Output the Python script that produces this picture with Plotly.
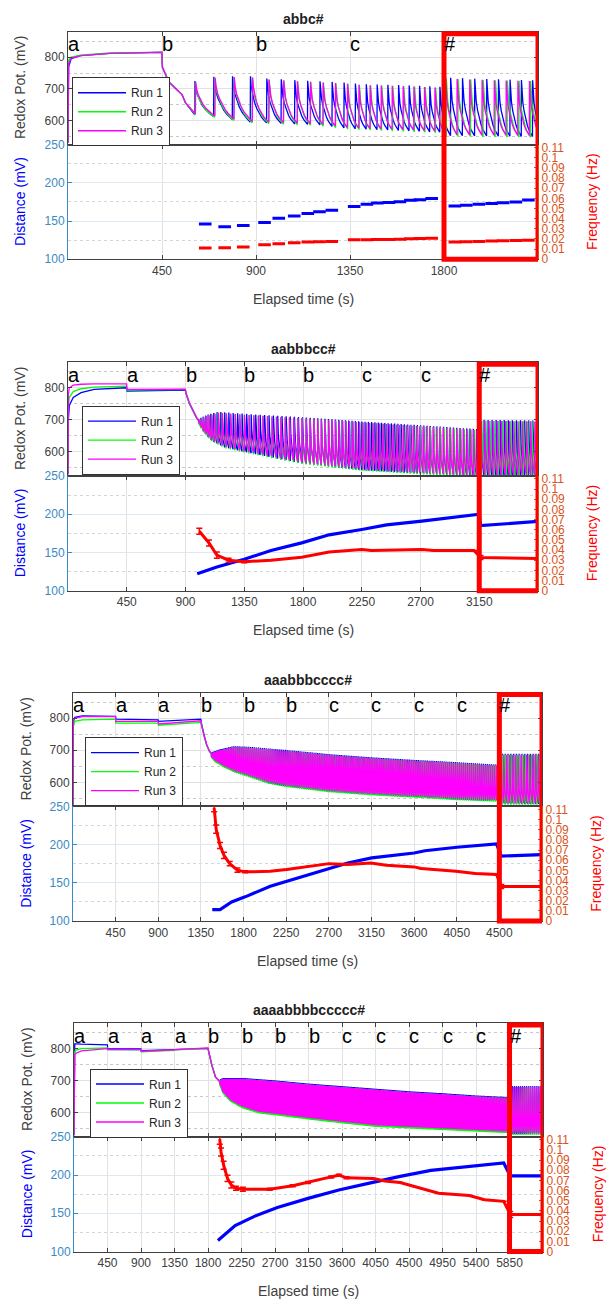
import numpy as np
import plotly.graph_objects as go

W, H = 608, 1308

RUN_NAMES = ["Run 1", "Run 2", "Run 3"]
RUN_COLORS = ["#0000FF", "#00FF00", "#FF00FF"]

# Spike profile read from the isolated oscillations of the first panel
SPIKE_PHASE = [0.0, 0.015, 0.06, 0.14, 0.25, 0.40, 0.55, 0.70, 0.85]
SPIKE_LEVEL = [0.0, 1.0, 0.78, 0.60, 0.45, 0.30, 0.19, 0.11, 0.05]

# per-run differences
RUN_PERIOD_FACTOR = [1.0, 1.03, 1.025]
RUN_PEAK_OFFSET = [3, 0, 0]
RUN_TROUGH_OFFSET = [-3, -5, 0]
RUN_DELAY = [0, 2, 4]

# ---------------- Panel 1 ----------------
P1_TITLE = "abbc#"
P1_LABELS = ["a", "b", "b", "c", "#"]
P1_XMAX = 2250
P1_BASE_T = [0, 3, 15, 60, 200, 449, 452, 482, 514, 546, 562, 594, 606]
P1_BASE_R1 = [530, 770, 795, 805, 812, 815, 768, 723, 702, 682, 657, 632, 622]
P1_BASE_R2 = [530, 790, 800, 806, 813, 815, 768, 723, 702, 682, 657, 632, 622]
P1_BASE_R3 = [530, 780, 797, 805, 812, 816, 768, 723, 702, 682, 657, 632, 622]
P1_PEAK_T = [606, 694, 785, 866, 950, 1100, 1300, 1415, 1640, 1795, 1805, 2000, 2250]
P1_PEAK_V = [722, 735, 737, 737, 730, 724, 718, 712, 708, 703, 733, 728, 724]
P1_TROUGH_T = [606, 691, 781, 860, 1000, 1200, 1350, 1600, 1795, 1805, 2250]
P1_TROUGH_V = [622, 617, 607, 599, 595, 590, 578, 572, 566, 556, 553]
P1_FREQ_T = [657, 750, 839, 941, 1009, 1083, 1148, 1204, 1263, 1370, 1431, 1481,
             1537, 1589, 1639, 1685, 1741, 1852, 1907, 1967, 2028, 2083, 2144, 2204]
P1_FREQ = [0.0110, 0.0114, 0.0120, 0.0143, 0.0153, 0.0162, 0.0169, 0.0172, 0.0175,
           0.0192, 0.0192, 0.0195, 0.0195, 0.0198, 0.0201, 0.0204, 0.0208,
           0.0169, 0.0172, 0.0175, 0.0179, 0.0182, 0.0185, 0.0188]
P1_FREQ_ERR = [0] * 24
P1_DIST_T = P1_FREQ_T
P1_DIST = [146, 142.5, 144, 148, 153.7, 156.7, 159.7, 162, 164, 169, 171.8, 173.5,
           174.3, 175.2, 177, 177.8, 179.5, 169.6, 170.5, 171.8, 173, 174, 174.8, 177.4]

# ---------------- Panel 2 ----------------
P2_TITLE = "aabbbcc#"
P2_LABELS = ["a", "a", "b", "b", "b", "c", "c", "#"]
P2_XMAX = 3600
P2_BASE_T = [0, 3, 10, 40, 100, 200, 449, 452, 899, 905, 930, 960, 985, 1000]
P2_BASE_R1 = [530, 700, 745, 770, 785, 795, 800, 790, 793, 780, 750, 725, 706, 698]
P2_BASE_R2 = [530, 740, 770, 788, 797, 802, 805, 793, 795, 782, 752, 726, 707, 698]
P2_BASE_R3 = [530, 780, 800, 808, 811, 812, 812, 795, 796, 783, 753, 727, 707, 698]
P2_PEAK_T = [1000, 1060, 1150, 1350, 1800, 2250, 2700, 3140, 3155, 3600]
P2_PEAK_V = [700, 712, 722, 716, 705, 692, 680, 668, 697, 695]
P2_TROUGH_T = [1000, 1040, 1100, 1200, 1350, 1800, 2250, 2700, 3140, 3155, 3600]
P2_TROUGH_V = [692, 665, 638, 617, 603, 567, 546, 535, 526, 528, 528]
P2_FREQ_T = [1006, 1080, 1140, 1230, 1350, 1555, 1790, 2000, 2250, 2325, 2710, 2800, 3110, 3160, 3600]
P2_FREQ = [0.0585, 0.047, 0.035, 0.030, 0.0285, 0.030, 0.033, 0.038, 0.0405, 0.0395,
           0.0405, 0.0395, 0.0395, 0.0326, 0.0316]
P2_FREQ_ERR = [0.003, 0.003, 0.003, 0.002, 0.001, 0, 0, 0, 0, 0, 0, 0, 0, 0.002, 0]
P2_DIST_T = [990, 1140, 1350, 1555, 1790, 2000, 2250, 2440, 2710, 2890, 3110, 3150, 3160, 3600]
P2_DIST = [122, 131, 141, 152.6, 162.5, 173, 180, 186, 191, 194.8, 199, 200, 185, 190.5]

# ---------------- Panel 3 ----------------
P3_TITLE = "aaabbbcccc#"
P3_LABELS = ["a", "a", "a", "b", "b", "b", "c", "c", "c", "c", "#"]
P3_XMAX = 4950
P3_BASE_T = [0, 4, 20, 100, 449, 452, 899, 902, 1349, 1355, 1380, 1410, 1440, 1460]
P3_BASE_R1 = [530, 790, 803, 807, 806, 797, 795, 790, 797, 785, 752, 718, 697, 690]
P3_BASE_R2 = [530, 775, 790, 795, 797, 785, 785, 778, 787, 778, 748, 716, 696, 690]
P3_BASE_R3 = [530, 790, 800, 805, 805, 790, 790, 782, 792, 781, 750, 717, 697, 690]
P3_PEAK_T = [1460, 1550, 1700, 1850, 2250, 2700, 3150, 3600, 4050, 4490, 4505, 4950]
P3_PEAK_V = [690, 700, 710, 708, 698, 685, 675, 667, 660, 652, 686, 686]
P3_TROUGH_T = [1460, 1500, 1600, 1700, 1800, 2065, 2250, 2700, 3150, 3600, 4050, 4490, 4505, 4950]
P3_TROUGH_V = [682, 668, 650, 636, 626, 600, 590, 574, 564, 557, 549, 544, 535, 535]
P3_FREQ_T = [1490, 1511, 1552, 1593, 1654, 1735, 1817, 2082, 2254, 2490, 2703, 2900, 3144,
             3307, 3601, 3675, 3920, 4042, 4246, 4470, 4520, 4950]
P3_FREQ = [0.1116, 0.0906, 0.0744, 0.0647, 0.0566, 0.0502, 0.0485, 0.049, 0.0508, 0.054,
           0.0566, 0.0557, 0.0573, 0.055, 0.0534, 0.0518, 0.0502, 0.049, 0.0469, 0.046,
           0.034, 0.034]
P3_FREQ_ERR = [0.004, 0.004, 0.003, 0.003, 0.002, 0.002, 0.001, 0, 0, 0, 0, 0, 0, 0, 0, 0,
               0, 0, 0, 0, 0.002, 0]
P3_DIST_T = [1470, 1552, 1674, 1817, 2082, 2254, 2490, 2703, 2900, 3153, 3601, 3715, 4050,
             4470, 4520, 4950]
P3_DIST = [115, 115, 125, 131.7, 145.6, 152, 161, 169.6, 176, 182.6, 189, 192, 196.5, 201,
           185, 187]

# ---------------- Panel 4 ----------------
P4_TITLE = "aaaabbbbccccc#"
P4_LABELS = ["a", "a", "a", "a", "b", "b", "b", "b", "c", "c", "c", "c", "c", "#"]
P4_XMAX = 6300
P4_BASE_T = [0, 3, 10, 20, 100, 449, 452, 899, 902, 1349, 1352, 1799, 1810, 1850, 1900, 1955]
P4_BASE_R1 = [530, 805, 815, 815, 814, 812, 800, 799, 794, 797, 797, 801, 790, 750, 712, 698]
P4_BASE_R2 = [530, 780, 790, 795, 800, 802, 797, 796, 790, 795, 796, 800, 789, 749, 711, 698]
P4_BASE_R3 = [530, 770, 780, 785, 793, 800, 797, 797, 792, 796, 797, 802, 790, 750, 712, 698]
P4_PEAK_T = [1955, 2000, 2300, 2700, 3150, 3600, 4050, 4500, 4950, 5400, 5840, 5855, 6300]
P4_PEAK_V = [700, 705, 705, 698, 688, 680, 672, 664, 658, 651, 646, 680, 680]
P4_TROUGH_T = [1955, 2000, 2100, 2250, 2480, 2700, 3150, 3600, 4050, 4500, 4950, 5400, 5840, 5855, 6300]
P4_TROUGH_V = [695, 665, 640, 620, 603, 597, 584, 572, 561, 556, 551, 546, 541, 536, 536]
P4_FREQ_T = [1958, 1975, 2010, 2062, 2113, 2175, 2268, 2629, 2938, 3144, 3454, 3557, 3660,
             4020, 4175, 4381, 4588, 4897, 5309, 5515, 5773, 5860, 6300]
P4_FREQ = [0.1106, 0.098, 0.085, 0.072, 0.0655, 0.0623, 0.0613, 0.0613, 0.0648, 0.068,
           0.0735, 0.0752, 0.0726, 0.072, 0.0694, 0.068, 0.0639, 0.0574, 0.0552, 0.051,
           0.0494, 0.0365, 0.0365]
P4_FREQ_ERR = [0.005, 0.004, 0.004, 0.003, 0.003, 0.002, 0.002, 0.001, 0.001, 0.001, 0.001,
               0.001, 0.001, 0, 0, 0, 0, 0, 0, 0, 0, 0.003, 0]
P4_DIST_T = [1933, 2010, 2165, 2423, 2732, 3144, 3557, 3969, 4381, 4794, 5206, 5773, 5860, 6300]
P4_DIST = [114.5, 121, 134, 146, 157.6, 169.5, 180.5, 189.4, 198.3, 206, 210.5, 215.8, 199, 199]

PANELS = [
    dict(title=P1_TITLE, labels=P1_LABELS, xmax=P1_XMAX, base_t=P1_BASE_T,
         base=[P1_BASE_R1, P1_BASE_R2, P1_BASE_R3], peak_t=P1_PEAK_T, peak_v=P1_PEAK_V,
         tr_t=P1_TROUGH_T, tr_v=P1_TROUGH_V, f_t=P1_FREQ_T, f_v=P1_FREQ, f_e=P1_FREQ_ERR,
         d_t=P1_DIST_T, d_v=P1_DIST, discrete=True),
    dict(title=P2_TITLE, labels=P2_LABELS, xmax=P2_XMAX, base_t=P2_BASE_T,
         base=[P2_BASE_R1, P2_BASE_R2, P2_BASE_R3], peak_t=P2_PEAK_T, peak_v=P2_PEAK_V,
         tr_t=P2_TROUGH_T, tr_v=P2_TROUGH_V, f_t=P2_FREQ_T, f_v=P2_FREQ, f_e=P2_FREQ_ERR,
         d_t=P2_DIST_T, d_v=P2_DIST, discrete=False),
    dict(title=P3_TITLE, labels=P3_LABELS, xmax=P3_XMAX, base_t=P3_BASE_T,
         base=[P3_BASE_R1, P3_BASE_R2, P3_BASE_R3], peak_t=P3_PEAK_T, peak_v=P3_PEAK_V,
         tr_t=P3_TROUGH_T, tr_v=P3_TROUGH_V, f_t=P3_FREQ_T, f_v=P3_FREQ, f_e=P3_FREQ_ERR,
         d_t=P3_DIST_T, d_v=P3_DIST, discrete=False),
    dict(title=P4_TITLE, labels=P4_LABELS, xmax=P4_XMAX, base_t=P4_BASE_T,
         base=[P4_BASE_R1, P4_BASE_R2, P4_BASE_R3], peak_t=P4_PEAK_T, peak_v=P4_PEAK_V,
         tr_t=P4_TROUGH_T, tr_v=P4_TROUGH_V, f_t=P4_FREQ_T, f_v=P4_FREQ, f_e=P4_FREQ_ERR,
         d_t=P4_DIST_T, d_v=P4_DIST, discrete=False),
]

# pixel geometry of each panel: left, right, top, middle, bottom
GEOM = [
    (68, 538, 25, 139, 255),
    (68, 538, 359, 474, 590),
    (73, 542, 693, 808, 924),
    (74, 543, 1027, 1142, 1258),
]
LEGEND_DX = [4, 14, 12, 16]
LEGEND_DY = [46, 44, 45, 46]
YLABEL_X = [20, 20, 26, 27]
FLABEL_X = [592, 592, 596, 598]

STEP = 450
FONT = "Liberation Sans, Arial, sans-serif"
GRAY = "#404040"
AXBLUE = "#3A8AC4"
AXORANGE = "#D95319"


def redox_run(p, r):
    ts = list(p["base_t"])
    vs = list(p["base"][r])
    t = p["base_t"][-1] + RUN_DELAY[r]
    while t < p["xmax"]:
        f = float(np.interp(t, p["f_t"], p["f_v"]))
        T = RUN_PERIOD_FACTOR[r] / f
        pk = float(np.interp(t, p["peak_t"], p["peak_v"])) + RUN_PEAK_OFFSET[r]
        tr0 = float(np.interp(t, p["tr_t"], p["tr_v"])) + RUN_TROUGH_OFFSET[r]
        tr1 = float(np.interp(t + T, p["tr_t"], p["tr_v"])) + RUN_TROUGH_OFFSET[r]
        for ph, lv in zip(SPIKE_PHASE, SPIKE_LEVEL):
            base = tr0 + (tr1 - tr0) * ph
            ts.append(t + ph * T)
            vs.append(base + (pk - base) * lv)
        t += T
    return ts, vs


def nm(prefix, i):
    return prefix if i == 1 else f"{prefix}{i}"


def txt(x, y, text, size, color, angle=0):
    return dict(x=x, y=y, xref="paper", yref="paper", text=text, showarrow=False,
                xanchor="center", yanchor="middle", textangle=angle,
                font=dict(size=size, color=color, family=FONT))


fig = go.Figure()
layout = dict(
    width=W, height=H, margin=dict(l=0, r=0, t=0, b=0),
    paper_bgcolor="white", plot_bgcolor="white",
    font=dict(family=FONT, color=GRAY, size=12),
    showlegend=True,
)
annotations = []
shapes = []

for k, p in enumerate(PANELS):
    L, R, T, M, B = GEOM[k]
    xt, xb = 2 * k + 1, 2 * k + 2
    yt, yd, yf = 3 * k + 1, 3 * k + 2, 3 * k + 3
    xdom = [L / W, R / W]
    xmax = p["xmax"]
    ticks = list(range(STEP, xmax, STEP))
    legname = nm("legend", k + 1)

    # top: redox potential
    for r in range(3):
        ts, vs = redox_run(p, r)
        fig.add_trace(go.Scatter(
            x=ts, y=vs, mode="lines", name=RUN_NAMES[r],
            line=dict(color=RUN_COLORS[r], width=1.3),
            xaxis=nm("x", xt), yaxis=nm("y", yt), legend=legname,
            hoverinfo="skip"))

    # bottom: distance & frequency
    if p["discrete"]:
        fig.add_trace(go.Scatter(
            x=p["d_t"], y=p["d_v"], mode="markers", showlegend=False,
            marker=dict(symbol="line-ew", size=9, line=dict(color="#0000FF", width=3)),
            xaxis=nm("x", xb), yaxis=nm("y", yd)))
        fig.add_trace(go.Scatter(
            x=p["f_t"], y=p["f_v"], mode="markers", showlegend=False,
            marker=dict(symbol="line-ew", size=9, line=dict(color="#FF0000", width=3)),
            xaxis=nm("x", xb), yaxis=nm("y", yf)))
    else:
        fig.add_trace(go.Scatter(
            x=p["d_t"], y=p["d_v"], mode="lines", showlegend=False,
            line=dict(color="#0000FF", width=3.2),
            xaxis=nm("x", xb), yaxis=nm("y", yd)))
        fig.add_trace(go.Scatter(
            x=p["f_t"], y=p["f_v"], mode="lines", showlegend=False,
            line=dict(color="#FF0000", width=3),
            error_y=dict(type="data", array=p["f_e"], color="#FF0000", thickness=1.5, width=3),
            xaxis=nm("x", xb), yaxis=nm("y", yf)))

    ytop_dom = [1 - M / H, 1 - T / H]
    ybot_dom = [1 - B / H, 1 - M / H]

    common_x = dict(domain=xdom, range=[0, xmax], tickvals=ticks, ticks="inside",
                    ticklen=4, tickcolor=GRAY, showline=True, linecolor=GRAY, linewidth=1,
                    mirror="ticks", showgrid=True, gridcolor="#E2E2E2", gridwidth=1,
                    zeroline=False)
    layout[nm("xaxis", xt)] = dict(common_x, anchor=nm("y", yt), showticklabels=False)
    layout[nm("xaxis", xb)] = dict(common_x, anchor=nm("y", yd),
                                   ticktext=[str(v) for v in ticks],
                                   tickfont=dict(size=12, color=GRAY))

    layout[nm("yaxis", yt)] = dict(
        domain=ytop_dom, anchor=nm("x", xt), range=[525, 880], tickvals=[600, 700, 800],
        ticks="inside", ticklen=4, tickcolor=GRAY, showline=True, linecolor=GRAY,
        mirror="ticks", showgrid=True, gridcolor="#E2E2E2", zeroline=False,
        tickfont=dict(size=12, color=GRAY),
        minor=dict(tickvals=[550, 650, 750, 850], showgrid=True, griddash="dot",
                   gridcolor="#C8C8C8", ticks=""))
    layout[nm("yaxis", yd)] = dict(
        domain=ybot_dom, anchor=nm("x", xb), range=[100, 250], tickvals=[100, 150, 200, 250],
        ticks="inside", ticklen=4, tickcolor=AXBLUE, showline=True, linecolor=AXBLUE,
        showgrid=True, gridcolor="#DCE8F2", zeroline=False,
        tickfont=dict(size=12, color=AXBLUE),
        minor=dict(tickvals=[125, 175, 225], showgrid=True, griddash="dot",
                   gridcolor="#C9D9E6", ticks=""))
    ftv = [i / 100 for i in range(12)]
    layout[nm("yaxis", yf)] = dict(
        overlaying=nm("y", yd), side="right", anchor=nm("x", xb), range=[0, 0.113],
        tickvals=ftv, ticktext=["0"] + [f"{v:g}" for v in ftv[1:]],
        ticks="inside", ticklen=4, tickcolor=AXORANGE, showline=True, linecolor=AXORANGE,
        showgrid=False, zeroline=False, tickfont=dict(size=12, color=AXORANGE))

    layout[legname] = dict(
        x=(L + LEGEND_DX[k]) / W, y=1 - (T + LEGEND_DY[k]) / H, xanchor="left",
        yanchor="top", bgcolor="white", bordercolor="#333333", borderwidth=1,
        font=dict(size=12, color="#262626"), itemwidth=48, tracegroupgap=0)

    # segment letters
    for i, lab in enumerate(p["labels"]):
        annotations.append(dict(
            x=i * STEP, y=0.89, xref=nm("x", xt), yref=f"{nm('y', yt)} domain",
            text=lab, showarrow=False, xanchor="left", yanchor="middle", xshift=-2,
            font=dict(size=20, color="black", family=FONT)))

    cx = (L + R) / 2 / W
    annotations.append(txt(cx, 1 - (T - 13) / H, f"<b>{p['title']}</b>", 14, "#202020"))
    annotations.append(txt(cx, 1 - (B + 40) / H, "Elapsed time (s)", 14, GRAY))
    annotations.append(txt(YLABEL_X[k] / W, 1 - (T + M) / 2 / H, "Redox Pot. (mV)", 14,
                           GRAY, -90))
    annotations.append(txt(YLABEL_X[k] / W, 1 - (M + B) / 2 / H, "Distance (mV)", 14,
                           "#0000FF", -90))
    annotations.append(txt(FLABEL_X[k] / W, 1 - (M + B) / 2 / H, "Frequency (Hz)", 14,
                           "#FF0000", -90))

    shapes.append(dict(type="rect", xref=nm("x", xb), yref="paper",
                       x0=(len(p["labels"]) - 1) * STEP, x1=xmax,
                       y0=1 - B / H, y1=1 - (T + 2) / H,
                       line=dict(color="#FF0000", width=5), fillcolor="rgba(0,0,0,0)",
                       layer="above"))

layout["annotations"] = annotations
layout["shapes"] = shapes
fig.update_layout(**layout)
fig.write_html("out.html")
